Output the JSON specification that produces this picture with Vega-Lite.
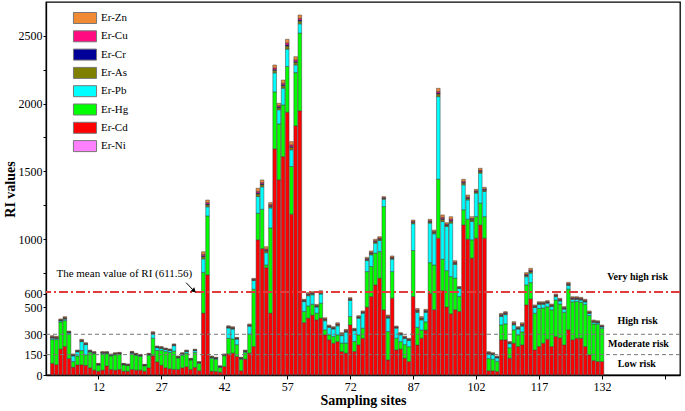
{
  "$schema": "https://vega.github.io/schema/vega-lite/v6.json",
  "width": 634,
  "height": 373,
  "autosize": "none",
  "padding": {"left": 46, "top": 2, "right": 5, "bottom": 36},
  "background": "white",
  "config": {
    "view": {"stroke": "black", "strokeWidth": 1.3},
    "font": "Liberation Serif"
  },
  "datasets": {
    "ri": [
      {"s":1,"Cd":85,"Hg":175,"Pb":10,"As":6,"Cr":2,"Cu":4,"Zn":7,"Ni":1},
      {"s":2,"Cd":75,"Hg":185,"Pb":8,"As":5,"Cr":2,"Cu":3,"Zn":6,"Ni":1},
      {"s":3,"Cd":190,"Hg":200,"Pb":8,"As":4,"Cr":2,"Cu":3,"Zn":5,"Ni":1},
      {"s":4,"Cd":210,"Hg":190,"Pb":10,"As":6,"Cr":2,"Cu":4,"Zn":7,"Ni":1},
      {"s":5,"Cd":120,"Hg":182,"Pb":8,"As":4,"Cr":2,"Cu":3,"Zn":4,"Ni":1},
      {"s":6,"Cd":57,"Hg":41,"Pb":42,"As":4,"Cr":2,"Cu":3,"Zn":5,"Ni":1},
      {"s":7,"Cd":74,"Hg":66,"Pb":30,"As":4,"Cr":2,"Cu":3,"Zn":4,"Ni":1},
      {"s":8,"Cd":74,"Hg":105,"Pb":66,"As":5,"Cr":2,"Cu":4,"Zn":6,"Ni":1},
      {"s":9,"Cd":70,"Hg":78,"Pb":75,"As":4,"Cr":2,"Cu":3,"Zn":5,"Ni":1},
      {"s":10,"Cd":52,"Hg":115,"Pb":5,"As":4,"Cr":1,"Cu":2,"Zn":4,"Ni":1},
      {"s":11,"Cd":35,"Hg":120,"Pb":5,"As":4,"Cr":1,"Cu":2,"Zn":4,"Ni":1},
      {"s":12,"Cd":27,"Hg":45,"Pb":3,"As":3,"Cr":1,"Cu":2,"Zn":4,"Ni":1},
      {"s":13,"Cd":35,"Hg":120,"Pb":5,"As":4,"Cr":1,"Cu":2,"Zn":4,"Ni":1},
      {"s":14,"Cd":66,"Hg":90,"Pb":4,"As":4,"Cr":1,"Cu":2,"Zn":4,"Ni":1},
      {"s":15,"Cd":40,"Hg":100,"Pb":4,"As":3,"Cr":1,"Cu":2,"Zn":4,"Ni":1},
      {"s":16,"Cd":35,"Hg":113,"Pb":4,"As":4,"Cr":1,"Cu":2,"Zn":4,"Ni":1},
      {"s":17,"Cd":40,"Hg":111,"Pb":4,"As":4,"Cr":1,"Cu":2,"Zn":4,"Ni":1},
      {"s":18,"Cd":27,"Hg":47,"Pb":2,"As":3,"Cr":1,"Cu":2,"Zn":3,"Ni":1},
      {"s":19,"Cd":27,"Hg":42,"Pb":2,"As":3,"Cr":1,"Cu":2,"Zn":3,"Ni":1},
      {"s":20,"Cd":40,"Hg":118,"Pb":4,"As":4,"Cr":1,"Cu":2,"Zn":4,"Ni":1},
      {"s":21,"Cd":35,"Hg":110,"Pb":4,"As":3,"Cr":1,"Cu":2,"Zn":4,"Ni":1},
      {"s":22,"Cd":35,"Hg":102,"Pb":4,"As":3,"Cr":1,"Cu":2,"Zn":4,"Ni":1},
      {"s":23,"Cd":27,"Hg":40,"Pb":2,"As":3,"Cr":1,"Cu":2,"Zn":3,"Ni":1},
      {"s":24,"Cd":52,"Hg":93,"Pb":4,"As":3,"Cr":1,"Cu":2,"Zn":4,"Ni":1},
      {"s":25,"Cd":140,"Hg":130,"Pb":30,"As":6,"Cr":2,"Cu":4,"Zn":6,"Ni":1},
      {"s":26,"Cd":95,"Hg":85,"Pb":20,"As":4,"Cr":2,"Cu":3,"Zn":4,"Ni":1},
      {"s":27,"Cd":71,"Hg":110,"Pb":14,"As":4,"Cr":2,"Cu":3,"Zn":4,"Ni":1},
      {"s":28,"Cd":52,"Hg":120,"Pb":14,"As":4,"Cr":2,"Cu":2,"Zn":4,"Ni":1},
      {"s":29,"Cd":45,"Hg":120,"Pb":14,"As":4,"Cr":2,"Cu":2,"Zn":4,"Ni":1},
      {"s":30,"Cd":40,"Hg":135,"Pb":40,"As":4,"Cr":2,"Cu":3,"Zn":4,"Ni":1},
      {"s":31,"Cd":40,"Hg":85,"Pb":4,"As":3,"Cr":1,"Cu":2,"Zn":4,"Ni":1},
      {"s":32,"Cd":52,"Hg":93,"Pb":8,"As":3,"Cr":1,"Cu":2,"Zn":4,"Ni":1},
      {"s":33,"Cd":60,"Hg":100,"Pb":12,"As":4,"Cr":1,"Cu":2,"Zn":4,"Ni":1},
      {"s":34,"Cd":40,"Hg":70,"Pb":3,"As":3,"Cr":1,"Cu":2,"Zn":3,"Ni":1},
      {"s":35,"Cd":55,"Hg":110,"Pb":14,"As":3,"Cr":1,"Cu":2,"Zn":4,"Ni":1},
      {"s":36,"Cd":30,"Hg":55,"Pb":3,"As":3,"Cr":1,"Cu":2,"Zn":3,"Ni":1},
      {"s":37,"Cd":455,"Hg":300,"Pb":100,"As":16,"Cr":6,"Cu":11,"Zn":19,"Ni":1},
      {"s":38,"Cd":737,"Hg":434,"Pb":67,"As":15,"Cr":6,"Cu":10,"Zn":19,"Ni":1},
      {"s":39,"Cd":27,"Hg":95,"Pb":6,"As":4,"Cr":1,"Cu":2,"Zn":4,"Ni":1},
      {"s":40,"Cd":25,"Hg":90,"Pb":5,"As":3,"Cr":1,"Cu":2,"Zn":4,"Ni":1},
      {"s":41,"Cd":20,"Hg":35,"Pb":3,"As":3,"Cr":1,"Cu":2,"Zn":2,"Ni":1},
      {"s":42,"Cd":61,"Hg":80,"Pb":4,"As":3,"Cr":1,"Cu":2,"Zn":3,"Ni":1},
      {"s":43,"Cd":155,"Hg":115,"Pb":75,"As":5,"Cr":2,"Cu":4,"Zn":6,"Ni":1},
      {"s":44,"Cd":160,"Hg":105,"Pb":72,"As":6,"Cr":2,"Cu":4,"Zn":6,"Ni":1},
      {"s":45,"Cd":135,"Hg":88,"Pb":40,"As":4,"Cr":2,"Cu":3,"Zn":4,"Ni":1},
      {"s":46,"Cd":30,"Hg":85,"Pb":5,"As":3,"Cr":1,"Cu":2,"Zn":4,"Ni":1},
      {"s":47,"Cd":116,"Hg":50,"Pb":6,"As":4,"Cr":1,"Cu":2,"Zn":4,"Ni":1},
      {"s":48,"Cd":160,"Hg":140,"Pb":58,"As":5,"Cr":2,"Cu":4,"Zn":6,"Ni":1},
      {"s":49,"Cd":209,"Hg":422,"Pb":64,"As":5,"Cr":2,"Cu":3,"Zn":6,"Ni":1},
      {"s":50,"Cd":995,"Hg":196,"Pb":123,"As":19,"Cr":7,"Cu":12,"Zn":23,"Ni":1},
      {"s":51,"Cd":930,"Hg":290,"Pb":165,"As":16,"Cr":6,"Cu":10,"Zn":19,"Ni":1},
      {"s":52,"Cd":790,"Hg":20,"Pb":90,"As":13,"Cr":5,"Cu":9,"Zn":17,"Ni":1},
      {"s":53,"Cd":455,"Hg":628,"Pb":147,"As":12,"Cr":5,"Cu":8,"Zn":14,"Ni":1},
      {"s":54,"Cd":1665,"Hg":420,"Pb":140,"As":18,"Cr":7,"Cu":12,"Zn":21,"Ni":1},
      {"s":55,"Cd":1437,"Hg":412,"Pb":104,"As":15,"Cr":6,"Cu":10,"Zn":17,"Ni":1},
      {"s":56,"Cd":1608,"Hg":381,"Pb":123,"As":18,"Cr":7,"Cu":12,"Zn":23,"Ni":1},
      {"s":57,"Cd":1935,"Hg":337,"Pb":128,"As":22,"Cr":9,"Cu":15,"Zn":26,"Ni":1},
      {"s":58,"Cd":1184,"Hg":351,"Pb":123,"As":18,"Cr":7,"Cu":12,"Zn":23,"Ni":1},
      {"s":59,"Cd":1835,"Hg":392,"Pb":57,"As":18,"Cr":7,"Cu":12,"Zn":23,"Ni":1},
      {"s":60,"Cd":1945,"Hg":573,"Pb":68,"As":20,"Cr":8,"Cu":13,"Zn":24,"Ni":1},
      {"s":61,"Cd":385,"Hg":82,"Pb":73,"As":5,"Cr":2,"Cu":4,"Zn":6,"Ni":1},
      {"s":62,"Cd":418,"Hg":90,"Pb":75,"As":7,"Cr":3,"Cu":5,"Zn":8,"Ni":1},
      {"s":63,"Cd":440,"Hg":80,"Pb":70,"As":7,"Cr":3,"Cu":5,"Zn":8,"Ni":1},
      {"s":64,"Cd":405,"Hg":50,"Pb":45,"As":6,"Cr":2,"Cu":4,"Zn":7,"Ni":1},
      {"s":65,"Cd":418,"Hg":110,"Pb":68,"As":7,"Cr":3,"Cu":5,"Zn":9,"Ni":1},
      {"s":66,"Cd":295,"Hg":37,"Pb":67,"As":7,"Cr":3,"Cu":5,"Zn":7,"Ni":1},
      {"s":67,"Cd":258,"Hg":37,"Pb":55,"As":5,"Cr":2,"Cu":4,"Zn":6,"Ni":1},
      {"s":68,"Cd":233,"Hg":50,"Pb":55,"As":5,"Cr":2,"Cu":4,"Zn":6,"Ni":1},
      {"s":69,"Cd":245,"Hg":50,"Pb":66,"As":7,"Cr":3,"Cu":5,"Zn":8,"Ni":1},
      {"s":70,"Cd":172,"Hg":62,"Pb":55,"As":7,"Cr":3,"Cu":5,"Zn":7,"Ni":1},
      {"s":71,"Cd":160,"Hg":74,"Pb":80,"As":7,"Cr":3,"Cu":4,"Zn":7,"Ni":1},
      {"s":72,"Cd":368,"Hg":62,"Pb":118,"As":7,"Cr":3,"Cu":4,"Zn":7,"Ni":1},
      {"s":73,"Cd":172,"Hg":74,"Pb":80,"As":5,"Cr":2,"Cu":4,"Zn":6,"Ni":1},
      {"s":74,"Cd":221,"Hg":74,"Pb":122,"As":6,"Cr":2,"Cu":4,"Zn":7,"Ni":1},
      {"s":75,"Cd":270,"Hg":74,"Pb":110,"As":5,"Cr":2,"Cu":4,"Zn":6,"Ni":1},
      {"s":76,"Cd":499,"Hg":262,"Pb":81,"As":7,"Cr":3,"Cu":5,"Zn":9,"Ni":1},
      {"s":77,"Cd":577,"Hg":221,"Pb":86,"As":9,"Cr":4,"Cu":6,"Zn":10,"Ni":1},
      {"s":78,"Cd":663,"Hg":234,"Pb":73,"As":9,"Cr":4,"Cu":6,"Zn":10,"Ni":1},
      {"s":79,"Cd":712,"Hg":196,"Pb":82,"As":9,"Cr":3,"Cu":6,"Zn":10,"Ni":1},
      {"s":80,"Cd":479,"Hg":761,"Pb":54,"As":6,"Cr":2,"Cu":4,"Zn":7,"Ni":1},
      {"s":81,"Cd":110,"Hg":209,"Pb":99,"As":7,"Cr":3,"Cu":5,"Zn":8,"Ni":1},
      {"s":82,"Cd":565,"Hg":196,"Pb":91,"As":7,"Cr":3,"Cu":5,"Zn":9,"Ni":1},
      {"s":83,"Cd":184,"Hg":86,"Pb":74,"As":5,"Cr":2,"Cu":3,"Zn":6,"Ni":1},
      {"s":84,"Cd":190,"Hg":55,"Pb":50,"As":5,"Cr":2,"Cu":3,"Zn":6,"Ni":1},
      {"s":85,"Cd":123,"Hg":100,"Pb":45,"As":6,"Cr":2,"Cu":4,"Zn":6,"Ni":1},
      {"s":86,"Cd":98,"Hg":110,"Pb":45,"As":5,"Cr":2,"Cu":3,"Zn":6,"Ni":1},
      {"s":87,"Cd":577,"Hg":339,"Pb":197,"As":9,"Cr":3,"Cu":6,"Zn":10,"Ni":1},
      {"s":88,"Cd":220,"Hg":130,"Pb":110,"As":9,"Cr":4,"Cu":6,"Zn":10,"Ni":1},
      {"s":89,"Cd":270,"Hg":60,"Pb":75,"As":7,"Cr":3,"Cu":5,"Zn":9,"Ni":1},
      {"s":90,"Cd":330,"Hg":60,"Pb":70,"As":7,"Cr":3,"Cu":5,"Zn":8,"Ni":1},
      {"s":91,"Cd":600,"Hg":227,"Pb":291,"As":9,"Cr":3,"Cu":6,"Zn":10,"Ni":1},
      {"s":92,"Cd":480,"Hg":330,"Pb":229,"As":9,"Cr":3,"Cu":6,"Zn":10,"Ni":1},
      {"s":93,"Cd":1007,"Hg":435,"Pb":608,"As":19,"Cr":7,"Cu":12,"Zn":23,"Ni":1},
      {"s":94,"Cd":620,"Hg":232,"Pb":278,"As":15,"Cr":6,"Cu":10,"Zn":17,"Ni":1},
      {"s":95,"Cd":500,"Hg":268,"Pb":325,"As":9,"Cr":3,"Cu":6,"Zn":10,"Ni":1},
      {"s":96,"Cd":450,"Hg":274,"Pb":394,"As":14,"Cr":6,"Cu":10,"Zn":17,"Ni":1},
      {"s":97,"Cd":480,"Hg":233,"Pb":100,"As":9,"Cr":3,"Cu":6,"Zn":10,"Ni":1},
      {"s":98,"Cd":467,"Hg":110,"Pb":60,"As":4,"Cr":2,"Cu":3,"Zn":4,"Ni":1},
      {"s":99,"Cd":1105,"Hg":111,"Pb":184,"As":13,"Cr":5,"Cu":8,"Zn":15,"Ni":1},
      {"s":100,"Cd":1000,"Hg":147,"Pb":142,"As":11,"Cr":4,"Cu":7,"Zn":14,"Ni":1},
      {"s":101,"Cd":860,"Hg":135,"Pb":135,"As":11,"Cr":4,"Cu":7,"Zn":13,"Ni":1},
      {"s":102,"Cd":1007,"Hg":159,"Pb":173,"As":9,"Cr":3,"Cu":6,"Zn":10,"Ni":1},
      {"s":103,"Cd":1105,"Hg":160,"Pb":221,"As":11,"Cr":4,"Cu":7,"Zn":14,"Ni":1},
      {"s":104,"Cd":1007,"Hg":159,"Pb":185,"As":10,"Cr":4,"Cu":6,"Zn":11,"Ni":1},
      {"s":105,"Cd":30,"Hg":90,"Pb":35,"As":5,"Cr":2,"Cu":3,"Zn":6,"Ni":1},
      {"s":106,"Cd":30,"Hg":85,"Pb":33,"As":5,"Cr":2,"Cu":3,"Zn":5,"Ni":1},
      {"s":107,"Cd":25,"Hg":75,"Pb":25,"As":4,"Cr":2,"Cu":3,"Zn":5,"Ni":1},
      {"s":108,"Cd":258,"Hg":110,"Pb":62,"As":7,"Cr":3,"Cu":5,"Zn":8,"Ni":1},
      {"s":109,"Cd":258,"Hg":118,"Pb":68,"As":7,"Cr":3,"Cu":5,"Zn":7,"Ni":1},
      {"s":110,"Cd":123,"Hg":77,"Pb":30,"As":5,"Cr":2,"Cu":3,"Zn":5,"Ni":1},
      {"s":111,"Cd":233,"Hg":99,"Pb":36,"As":7,"Cr":3,"Cu":5,"Zn":9,"Ni":1},
      {"s":112,"Cd":209,"Hg":86,"Pb":42,"As":6,"Cr":2,"Cu":4,"Zn":6,"Ni":1},
      {"s":113,"Cd":221,"Hg":96,"Pb":42,"As":8,"Cr":3,"Cu":5,"Zn":9,"Ni":1},
      {"s":114,"Cd":516,"Hg":147,"Pb":60,"As":9,"Cr":4,"Cu":6,"Zn":11,"Ni":1},
      {"s":115,"Cd":560,"Hg":120,"Pb":70,"As":11,"Cr":4,"Cu":7,"Zn":13,"Ni":1},
      {"s":116,"Cd":184,"Hg":270,"Pb":42,"As":6,"Cr":2,"Cu":4,"Zn":7,"Ni":1},
      {"s":117,"Cd":209,"Hg":280,"Pb":30,"As":6,"Cr":3,"Cu":4,"Zn":7,"Ni":1},
      {"s":118,"Cd":233,"Hg":260,"Pb":27,"As":6,"Cr":2,"Cu":4,"Zn":7,"Ni":1},
      {"s":119,"Cd":262,"Hg":240,"Pb":26,"As":6,"Cr":2,"Cu":4,"Zn":7,"Ni":1},
      {"s":120,"Cd":209,"Hg":270,"Pb":24,"As":6,"Cr":2,"Cu":4,"Zn":7,"Ni":1},
      {"s":121,"Cd":282,"Hg":270,"Pb":24,"As":6,"Cr":3,"Cu":4,"Zn":7,"Ni":1},
      {"s":122,"Cd":272,"Hg":250,"Pb":22,"As":6,"Cr":3,"Cu":4,"Zn":7,"Ni":1},
      {"s":123,"Cd":221,"Hg":240,"Pb":23,"As":6,"Cr":2,"Cu":4,"Zn":7,"Ni":1},
      {"s":124,"Cd":332,"Hg":300,"Pb":26,"As":7,"Cr":3,"Cu":5,"Zn":9,"Ni":1},
      {"s":125,"Cd":258,"Hg":280,"Pb":18,"As":6,"Cr":3,"Cu":4,"Zn":7,"Ni":1},
      {"s":126,"Cd":270,"Hg":270,"Pb":16,"As":6,"Cr":3,"Cu":4,"Zn":7,"Ni":1},
      {"s":127,"Cd":270,"Hg":265,"Pb":16,"As":6,"Cr":3,"Cu":4,"Zn":7,"Ni":1},
      {"s":128,"Cd":209,"Hg":310,"Pb":18,"As":6,"Cr":3,"Cu":4,"Zn":7,"Ni":1},
      {"s":129,"Cd":147,"Hg":290,"Pb":15,"As":6,"Cr":2,"Cu":4,"Zn":7,"Ni":1},
      {"s":130,"Cd":105,"Hg":270,"Pb":12,"As":5,"Cr":2,"Cu":4,"Zn":6,"Ni":1},
      {"s":131,"Cd":98,"Hg":275,"Pb":10,"As":5,"Cr":2,"Cu":3,"Zn":6,"Ni":1},
      {"s":132,"Cd":98,"Hg":245,"Pb":10,"As":4,"Cr":2,"Cu":3,"Zn":5,"Ni":1}
    ],
    "thr": [{"v":150},{"v":300}],
    "mean": [{"v":611.56}],
    "risk": [
      {"s":140.5,"v":722,"t":"Very high risk"},
      {"s":140.5,"v":398,"t":"High risk"},
      {"s":140.7,"v":228,"t":"Moderate risk"},
      {"s":140.3,"v":81,"t":"Low risk"}
    ],
    "note": [{"s":2.0,"v":742,"t":"The mean value of RI (611.56)"}],
    "arrow": [{"s":32.9,"v":680,"s2":34.5,"v2":628}],
    "head": [{"s":34.8,"v":620}]
  },
  "encoding": {
    "x": {"field": "s", "type": "quantitative",
      "scale": {"domain": [0.7, 149.4], "nice": false, "zero": false},
      "axis": {"title": "Sampling sites", "values": [12,27,42,57,72,87,102,117,132,147], "format": "d",
        "labelExpr": "datum.value == 147 ? '' : datum.label",
        "grid": false, "tickSize": 4, "tickColor": "black", "domainColor": "black", "domainWidth": 1.3,
        "labelFont": "Liberation Serif", "labelFontSize": 12, "labelColor": "black", "labelPadding": 2,
        "titleFont": "Liberation Serif", "titleFontSize": 14, "titleFontWeight": "bold", "titleColor": "black", "titlePadding": 1}},
    "y": {"field": "v", "type": "quantitative",
      "scale": {"domain": [0, 2748], "nice": false},
      "axis": {"title": "RI values", "values": [0,150,300,500,600,750,1000,1250,1500,1750,2000,2250,2500], "format": "d",
        "labelExpr": "(datum.value == 750 || datum.value == 1250 || datum.value == 1750 || datum.value == 2250) ? '' : datum.label",
        "grid": false, "tickSize": 3, "tickColor": "black", "domainColor": "black", "domainWidth": 1.3,
        "labelFont": "Liberation Serif", "labelFontSize": 12, "labelColor": "black", "labelPadding": 1,
        "titleFont": "Liberation Serif", "titleFontSize": 14, "titleFontWeight": "bold", "titleColor": "black",
        "titleX": -36, "titleY": 187, "titleAngle": -90, "titleAlign": "center", "titleBaseline": "middle"}}
  },
  "layer": [
    {
      "data": {"name": "ri"},
      "transform": [
        {"fold": ["Ni","Cd","Hg","Pb","As","Cr","Cu","Zn"], "as": ["k","v"]},
        {"lookup": "k", "from": {"data": {"values": [
          {"k":"Ni","o":1},{"k":"Cd","o":2},{"k":"Hg","o":3},{"k":"Pb","o":4},
          {"k":"As","o":5},{"k":"Cr","o":6},{"k":"Cu","o":7},{"k":"Zn","o":8}
        ]}, "key": "k", "fields": ["o"]}}
      ],
      "mark": {"type": "bar", "width": 3.6, "stroke": "#3c3c3c", "strokeWidth": 0.5},
      "encoding": {
        "y": {"field": "v", "type": "quantitative", "stack": "zero"},
        "color": {"field": "k", "type": "nominal",
          "scale": {"domain": ["Zn","Cu","Cr","As","Pb","Hg","Cd","Ni"],
            "range": ["#F08A35","#FF0A80","#000099","#808000","#00FFFF","#00FF00","#FF0000","#FF80FF"]},
          "legend": {"title": null, "orient": "none", "legendX": 33, "legendY": 10,
            "labelExpr": "'Er-' + datum.label",
            "symbolType": "M-2.1,-1H2.1V1H-2.1Z", "symbolSize": 121,
            "symbolStrokeColor": "#777777", "symbolStrokeWidth": 1, "symbolOpacity": 1,
            "labelFont": "Liberation Serif", "labelFontSize": 11, "labelColor": "black",
            "labelOffset": 10, "rowPadding": 2.3}},
        "order": {"field": "o", "type": "quantitative"}
      }
    },
    {
      "data": {"name": "thr"},
      "mark": {"type": "rule", "color": "#777777", "strokeDash": [4, 3], "strokeWidth": 1},
      "encoding": {"x": null}
    },
    {
      "data": {"name": "mean"},
      "mark": {"type": "rule", "color": "#E23B3B", "strokeDash": [9, 3, 2, 3], "strokeWidth": 2},
      "encoding": {"x": null}
    },
    {
      "data": {"name": "risk"},
      "mark": {"type": "text", "font": "Liberation Serif", "fontSize": 10, "fontWeight": "bold", "align": "center", "baseline": "middle", "color": "black"},
      "encoding": {"text": {"field": "t"}}
    },
    {
      "data": {"name": "note"},
      "mark": {"type": "text", "font": "Liberation Serif", "fontSize": 11, "align": "left", "baseline": "middle", "color": "black"},
      "encoding": {"text": {"field": "t"}}
    },
    {
      "data": {"name": "arrow"},
      "mark": {"type": "rule", "color": "black", "strokeWidth": 1},
      "encoding": {"x2": {"field": "s2"}, "y2": {"field": "v2"}}
    },
    {
      "data": {"name": "head"},
      "mark": {"type": "point", "shape": "triangle-up", "filled": true, "color": "black", "size": 28, "angle": 133, "opacity": 1},
      "encoding": {}
    }
  ]
}
